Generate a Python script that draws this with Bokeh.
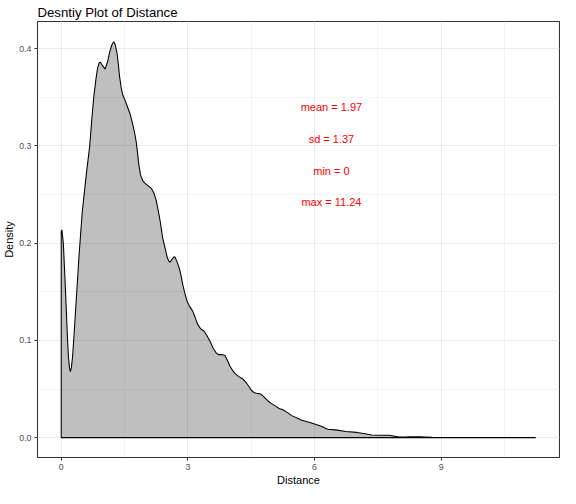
from bokeh.plotting import figure
from bokeh.models import Range1d, FixedTicker, PrintfTickFormatter, ColumnDataSource
from bokeh.core.properties import value
from bokeh.embed import file_html
from bokeh.resources import INLINE

# ---- data ----
distance = [0.00, 0.015, 0.05, 0.08, 0.115, 0.145, 0.17, 0.195, 0.215, 0.24, 0.27, 0.31,
            0.35, 0.39, 0.42, 0.46, 0.50, 0.55, 0.60, 0.675, 0.72, 0.77, 0.82, 0.86,
            0.90, 0.93, 0.97, 1.04, 1.10, 1.15, 1.20, 1.244, 1.28, 1.32, 1.35, 1.38,
            1.42, 1.46, 1.52, 1.57, 1.63, 1.69, 1.74, 1.78, 1.81, 1.84, 1.88, 1.935,
            2.00, 2.07, 2.14, 2.20, 2.25, 2.30, 2.35, 2.40, 2.46, 2.50, 2.54, 2.573,
            2.62, 2.67, 2.70, 2.75, 2.80, 2.84, 2.88, 2.93, 2.98, 3.04, 3.11, 3.17,
            3.226, 3.30, 3.38, 3.45, 3.53, 3.60, 3.67, 3.725, 3.80, 3.88, 3.94, 3.994,
            4.06, 4.13, 4.20, 4.30, 4.39, 4.455, 4.50, 4.56, 4.62, 4.68, 4.73, 4.80,
            4.89, 4.98, 5.08, 5.16, 5.24, 5.35, 5.47, 5.60, 5.70, 5.85, 6.00, 6.16,
            6.31, 6.50, 6.74, 7.00, 7.20, 7.35, 7.55, 7.78, 7.90, 8.00, 8.20, 8.47,
            8.78, 9.20, 10.00, 11.24]
density = [0.212, 0.2137, 0.200, 0.172, 0.137, 0.105, 0.084, 0.072, 0.068, 0.072, 0.084, 0.110,
           0.138, 0.165, 0.186, 0.210, 0.233, 0.253, 0.273, 0.300, 0.325, 0.350, 0.368, 0.380,
           0.3855, 0.386, 0.383, 0.379, 0.387, 0.397, 0.404, 0.407, 0.404, 0.396, 0.385, 0.372,
           0.360, 0.352, 0.346, 0.340, 0.333, 0.323, 0.313, 0.303, 0.292, 0.280, 0.270, 0.2637,
           0.261, 0.2587, 0.256, 0.251, 0.244, 0.233, 0.221, 0.206, 0.195, 0.187, 0.182, 0.1804,
           0.183, 0.186, 0.1854, 0.180, 0.1737, 0.166, 0.157, 0.148, 0.1404, 0.135, 0.1304, 0.124,
           0.117, 0.112, 0.1097, 0.105, 0.0987, 0.092, 0.087, 0.0854, 0.0855, 0.0844, 0.079, 0.0737,
           0.069, 0.0654, 0.063, 0.0604, 0.056, 0.0521, 0.049, 0.0465, 0.0457, 0.0453, 0.0447, 0.042,
           0.038, 0.035, 0.0324, 0.030, 0.029, 0.026, 0.0224, 0.020, 0.018, 0.016, 0.014, 0.0117,
           0.0087, 0.008, 0.0064, 0.0054, 0.004, 0.0027, 0.0025, 0.0024, 0.0015, 0.0007, 0.0008, 0.001,
           0.0003, 0.0001, 0.0, 0.0]

stat_labels = ["mean = 1.97", "sd = 1.37", "min = 0", "max = 11.24"]
stat_x = [6.4, 6.4, 6.4, 6.4]
stat_y = [0.340, 0.307, 0.274, 0.242]

x_ticks = [0, 3, 6, 9]
x_minor = [1.5, 4.5, 7.5, 10.5]
y_ticks = [0.0, 0.1, 0.2, 0.3, 0.4]
y_minor = [0.05, 0.15, 0.25, 0.35]

FONT = "Liberation Sans"

# ---- figure ----
p = figure(width=560, height=488, output_backend="svg", toolbar_location=None,
           x_range=Range1d(-0.562, 11.802), y_range=Range1d(-0.0204, 0.4279),
           title="Desntiy Plot of Distance",
           min_border_left=10, min_border_right=1, min_border_top=0, min_border_bottom=0)

p.background_fill_color = "white"
p.border_fill_color = "white"
p.outline_line_color = "#333333"
p.outline_line_width = 1.07

p.title.text_font = FONT
p.title.text_font_size = "13.2px"
p.title.text_font_style = "normal"
p.title.text_color = "black"
p.title.align = "left"
p.title.standoff = 4

# grids
p.xgrid.ticker = FixedTicker(ticks=x_ticks, minor_ticks=x_minor)
p.ygrid.ticker = FixedTicker(ticks=y_ticks, minor_ticks=y_minor)
for g in (p.xgrid, p.ygrid):
    g.grid_line_color = "#EBEBEB"
    g.grid_line_width = 1.07
    g.minor_grid_line_color = "#EBEBEB"
    g.minor_grid_line_width = 0.55

# axes
p.xaxis.ticker = FixedTicker(ticks=x_ticks, minor_ticks=x_minor)
p.yaxis.ticker = FixedTicker(ticks=y_ticks, minor_ticks=y_minor)
p.yaxis.formatter = PrintfTickFormatter(format="%.1f")
p.xaxis.axis_label = "Distance"
p.yaxis.axis_label = "Density"
for ax in (p.xaxis, p.yaxis):
    ax.axis_line_color = None
    ax.minor_tick_line_color = None
    ax.major_tick_line_color = "#333333"
    ax.major_tick_line_width = 1.07
    ax.major_tick_out = 3
    ax.major_tick_in = 0
    ax.major_label_text_font = FONT
    ax.major_label_text_font_size = "8.8px"
    ax.major_label_text_color = "#4D4D4D"
    ax.major_label_standoff = 2
    ax.axis_label_text_font = FONT
    ax.axis_label_text_font_size = "11px"
    ax.axis_label_text_font_style = "normal"
    ax.axis_label_text_color = "black"
    ax.axis_label_standoff = 1

# density area (closed polygon from the data)
poly_x = [distance[0]] + distance + [distance[-1]]
poly_y = [0.0] + density + [0.0]
p.patch(poly_x, poly_y, fill_color="black", fill_alpha=0.25,
        line_color="black", line_width=1.07)

# stats text
src = ColumnDataSource(dict(x=stat_x, y=stat_y, t=stat_labels))
p.text(x="x", y="y", text="t", source=src, text_color="#FF0000",
       text_font=value(FONT), text_font_size="11px",
       text_align="center", text_baseline="middle")

open("out.html", "w").write(file_html(p, INLINE))
